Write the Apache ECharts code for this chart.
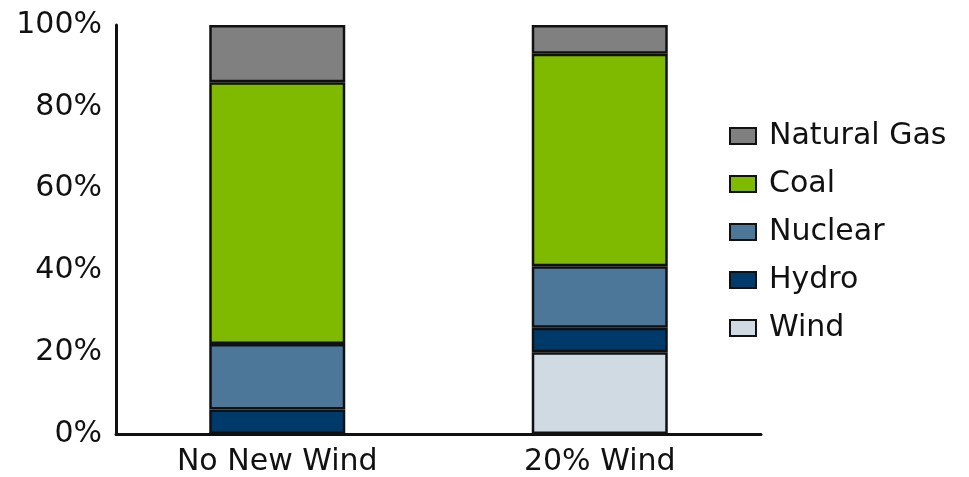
<!DOCTYPE html>
<html>
<head>
<meta charset="utf-8">
<script src="https://cdn.jsdelivr.net/npm/echarts@6/dist/echarts.min.js"></script>
<style>html,body{margin:0;padding:0;background:#fff;}#c{width:969px;height:477px;}</style>
</head>
<body>
<div id="c"></div>
<script>
const categories = ['No New Wind', '20% Wind'];
const wind = [0, 20];
const hydro = [6, 6];
const nuclear = [16, 15];
const coal = [64, 52];
const naturalGas = [14, 7];
const yTicks = [0, 20, 40, 60, 80, 100];

const FONT = 'DejaVu Sans';
const colors = {
  'Wind': '#cfdae3',
  'Hydro': '#003a6b',
  'Nuclear': '#4d7799',
  'Coal': '#7fba00',
  'Natural Gas': '#808080'
};
const seriesData = [
  ['Wind', wind], ['Hydro', hydro], ['Nuclear', nuclear], ['Coal', coal], ['Natural Gas', naturalGas]
];

const chart = echarts.init(document.getElementById('c'), null, {renderer: 'canvas'});
chart.setOption({
  animation: false,
  backgroundColor: '#ffffff',
  grid: {left: 116, right: 208, top: 25, bottom: 42, containLabel: false},
  legend: {
    orient: 'vertical',
    left: 724,
    top: 116,
    data: ['Natural Gas', 'Coal', 'Nuclear', 'Hydro', 'Wind'],
    itemWidth: 26,
    itemHeight: 16,
    itemGap: 18,
    icon: 'rect',
    itemStyle: {borderColor: '#111', borderWidth: 2},
    textStyle: {fontFamily: FONT, fontSize: 30, color: '#111', lineHeight: 30, padding: [0, 0, 0, 8]}
  },
  xAxis: {
    type: 'category',
    data: categories,
    axisLine: {show: true, lineStyle: {color: '#111', width: 3}},
    axisTick: {show: false},
    axisLabel: {fontFamily: FONT, fontSize: 30, color: '#111', margin: 13}
  },
  yAxis: {
    type: 'value',
    min: yTicks[0],
    max: yTicks[yTicks.length - 1],
    interval: 20,
    axisLine: {show: true, lineStyle: {color: '#111', width: 3}},
    axisTick: {show: false},
    splitLine: {show: false},
    axisLabel: {fontFamily: FONT, fontSize: 30, color: '#111', margin: 14, formatter: '{value}%'}
  },
  series: seriesData.map(([name, vals]) => ({
    name: name,
    type: 'bar',
    stack: 'total',
    barWidth: 136,
    data: vals,
    itemStyle: {color: colors[name], borderColor: '#111', borderWidth: 2.5}
  }))
});
</script>
</body>
</html>
